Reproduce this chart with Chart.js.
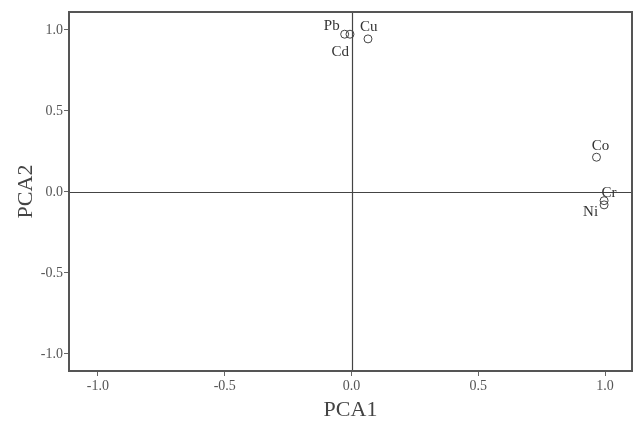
<!DOCTYPE html>
<html>
<head>
<meta charset="utf-8">
<script src="https://cdn.jsdelivr.net/npm/chart.js@4/dist/chart.umd.min.js"></script>
<style>
html,body{margin:0;padding:0;background:#fff;}
#wrap{width:637px;height:423px;}
</style>
</head>
<body>
<div id="wrap"><canvas id="c" width="637" height="423"></canvas></div>
<script>
const elements = ["Pb", "Cd", "Cu", "Co", "Cr", "Ni"];
const pca1 = [-0.027, -0.006, 0.065, 0.966, 0.996, 0.996];
const pca2 = [0.973, 0.973, 0.944, 0.214, -0.054, -0.080];
const xTickValues = [-1.0, -0.5, 0.0, 0.5, 1.0];
const yTickValues = [-1.0, -0.5, 0.0, 0.5, 1.0];
const xTitle = "PCA1";
const yTitle = "PCA2";

// label placement (style only): offsets in px and alignment
const labelStyle = {
  Pb: {dx: -5, dy: -4, align: "right"},
  Cd: {dx: -1, dy: 22, align: "right"},
  Cu: {dx: -8, dy: -8, align: "left"},
  Co: {dx: 4, dy: -7, align: "center"},
  Cr: {dx: 5, dy: -4, align: "center"},
  Ni: {dx: -6, dy: 11, align: "right"}
};

const FONT = "'Liberation Serif', 'DejaVu Serif', serif";

const framePlugin = {
  id: "frame",
  beforeDatasetsDraw(chart) {
    const {ctx, chartArea: a, scales: {x, y}} = chart;
    ctx.save();
    ctx.strokeStyle = "#444";
    ctx.lineWidth = 1.2;
    const x0 = Math.round(x.getPixelForValue(0)) + 0.5;
    const y0 = Math.round(y.getPixelForValue(0)) + 0.5;
    ctx.beginPath();
    ctx.moveTo(x0, a.top); ctx.lineTo(x0, a.bottom);
    ctx.moveTo(a.left, y0); ctx.lineTo(a.right, y0);
    ctx.stroke();
    ctx.strokeStyle = "#555";
    ctx.lineWidth = 2;
    ctx.strokeRect(a.left, a.top, a.right - a.left, a.bottom - a.top);
    ctx.restore();
  },
  afterDatasetsDraw(chart) {
    const {ctx} = chart;
    const meta = chart.getDatasetMeta(0);
    ctx.save();
    ctx.fillStyle = "#333";
    ctx.font = "15px " + FONT;
    ctx.textBaseline = "alphabetic";
    meta.data.forEach((pt, i) => {
      const name = elements[i];
      const s = labelStyle[name];
      ctx.textAlign = s.align;
      ctx.fillText(name, pt.x + s.dx, pt.y + s.dy);
    });
    ctx.restore();
  }
};

const pts = pca1.map((v, i) => ({x: v, y: pca2[i]}));

new Chart(document.getElementById("c"), {
  type: "scatter",
  data: {
    datasets: [{
      data: pts,
      pointStyle: "circle",
      pointRadius: 4,
      pointHoverRadius: 4,
      backgroundColor: "rgba(255,255,255,0)",
      borderColor: "#444",
      borderWidth: 1
    }]
  },
  options: {
    responsive: false,
    animation: false,
    events: [],
    layout: {padding: {top: 12, right: 3, left: 0, bottom: 0}},
    plugins: {legend: {display: false}, tooltip: {enabled: false}},
    scales: {
      x: {
        type: "linear",
        min: -1.114, max: 1.106,
        afterBuildTicks: s => { s.ticks = xTickValues.map(v => ({value: v})); },
        afterFit: s => { s.height = 52; },
        border: {display: false},
        grid: {drawOnChartArea: false, drawTicks: true, tickLength: 5, color: "#666", lineWidth: 1},
        ticks: {
          callback: v => v.toFixed(1),
          color: "#555",
          font: {family: FONT, size: 14},
          padding: 2,
          maxRotation: 0
        },
        title: {display: true, text: xTitle, color: "#444", font: {family: FONT, size: 22}, padding: {top: 2, bottom: 0}}
      },
      y: {
        type: "linear",
        min: -1.105, max: 1.11,
        afterBuildTicks: s => { s.ticks = yTickValues.map(v => ({value: v})); },
        afterFit: s => { s.width = 69; },
        border: {display: false},
        grid: {drawOnChartArea: false, drawTicks: true, tickLength: 5, color: "#666", lineWidth: 1},
        ticks: {
          callback: v => v.toFixed(1),
          color: "#555",
          font: {family: FONT, size: 14},
          padding: 1
        },
        title: {display: true, text: yTitle, color: "#444", font: {family: FONT, size: 22}, padding: {top: 13, bottom: 0}}
      }
    }
  },
  plugins: [framePlugin]
});
</script>
</body>
</html>
